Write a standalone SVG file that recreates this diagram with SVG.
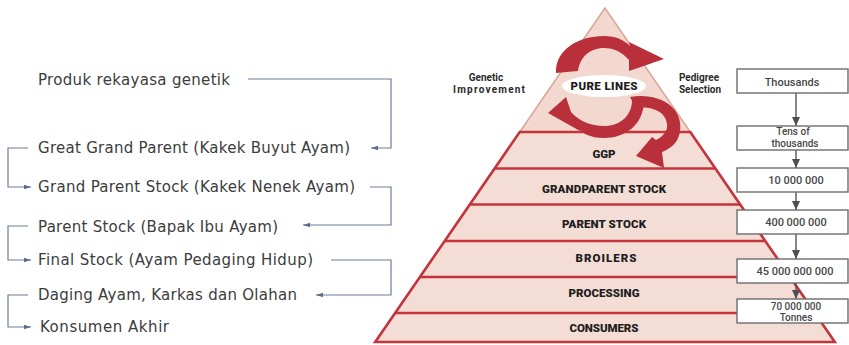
<svg xmlns="http://www.w3.org/2000/svg" width="849" height="345" viewBox="0 0 849 345">
  <defs>
    <marker id="tipBlue" markerWidth="8" markerHeight="6" refX="7" refY="3" orient="auto" markerUnits="userSpaceOnUse">
      <path d="M0,0.8 L7,3 L0,5.2 z" fill="#5b6d8c"/>
    </marker>
    <marker id="tipGray" markerWidth="10" markerHeight="9" refX="9" refY="4.5" orient="auto" markerUnits="userSpaceOnUse">
      <path d="M0,0.5 L9,4.5 L0,8.5 z" fill="#4f4f4f"/>
    </marker>
  </defs>
  <style>
    .lt { font-family: "DejaVu Sans", "Liberation Sans", sans-serif; font-size: 15px; fill: #3c3c3c; }
    .cn { fill: none; stroke: #6c7c98; stroke-width: 1.2; }
    .body { fill: #f3ddd5; stroke: #c5343d; stroke-width: 2.6; stroke-linejoin: miter; }
    .apex { fill: #f2d8ce; stroke: #d9a596; stroke-width: 1.5; }
    .rule { stroke: #c5343d; stroke-width: 2.6; }
    .lbl { font-family: Roboto, "DejaVu Sans", sans-serif; font-weight: 900; font-size: 11.5px; fill: #1e1e1e; text-anchor: middle; }
    .side { font-family: Roboto, "DejaVu Sans", sans-serif; font-weight: 700; font-size: 10px; fill: #2a2a2a; text-anchor: middle; }
    .box { fill: #ffffff; stroke: #6d6d6d; stroke-width: 1.4; }
    .bt { font-family: Roboto, "DejaVu Sans", sans-serif; font-weight: 500; font-size: 11px; fill: #474747; text-anchor: middle; }
    .bt2 { font-size: 10px; }
    .flow { stroke: #555555; stroke-width: 1.4; fill: none; }
    .red { fill: #b9303b; }
  </style>

  <!-- Left list of production stages -->
  <g id="produk"><text class="lt" x="38" y="85" textLength="192">Produk rekayasa genetik</text></g>
  <g id="ggp-id"><text class="lt" x="38" y="153" textLength="312">Great Grand Parent (Kakek Buyut Ayam)</text></g>
  <g id="gps-id"><text class="lt" x="38" y="192" textLength="317">Grand Parent Stock (Kakek Nenek Ayam)</text></g>
  <g id="ps-id"><text class="lt" x="38" y="232" textLength="240">Parent Stock (Bapak Ibu Ayam)</text></g>
  <g id="fs-id"><text class="lt" x="38" y="265" textLength="275">Final Stock (Ayam Pedaging Hidup)</text></g>
  <g id="daging"><text class="lt" x="38" y="300" textLength="259">Daging Ayam, Karkas dan Olahan</text></g>
  <g id="konsumen"><text class="lt" x="40" y="332" textLength="129">Konsumen Akhir</text></g>

  <!-- Connectors between list items -->
  <g id="connectors">
    <path class="cn" d="M248,79 H391 V148 H371" marker-end="url(#tipBlue)"/>
    <path class="cn" d="M28,148 H8 V187 H31" marker-end="url(#tipBlue)"/>
    <path class="cn" d="M370,187 H391 V225 H303" marker-end="url(#tipBlue)"/>
    <path class="cn" d="M28,226 H8 V260 H31" marker-end="url(#tipBlue)"/>
    <path class="cn" d="M331,260 H391 V295 H316" marker-end="url(#tipBlue)"/>
    <path class="cn" d="M28,295 H8 V327 H31" marker-end="url(#tipBlue)"/>
  </g>

  <!-- Pyramid -->
  <g id="pyramid">
    <polygon class="apex" points="605,8 519.7,132 690.3,132"/>
    <polygon class="body" points="519.7,132 690.3,132 834.8,342 375.2,342"/>
    <line class="rule" x1="494.6" y1="168.5" x2="715.4" y2="168.5"/>
    <line class="rule" x1="469.8" y1="204.5" x2="740.2" y2="204.5"/>
    <line class="rule" x1="444.7" y1="241" x2="765.3" y2="241"/>
    <line class="rule" x1="419.9" y1="277" x2="790.1" y2="277"/>
    <line class="rule" x1="395.2" y1="313" x2="814.8" y2="313"/>
  </g>

  <!-- Breeding cycle arrows -->
  <g id="cycle">
    <path class="red" d="M556,73 C555,50 578,36 604,36 C616,36 624,40 630,46 L629,42 L664,59 L629,71 L629,60 C622,52 614,48 604,48 C590,48 580,57 578,71 Z"/>
    <path class="red" d="M644,100 C644,125 625,138 604,138 C590,138 581,133 577,127 L580,131 L548,113 L566,97 L571,112 C579,121 591,126 604,126 C620,126 632,116 632,100 Z"/>
    <path class="red" d="M630,97 C660,92 684,108 680,132 C678,142 672,148 662,152 L664,168 L636,156 L652,137 L656,140 C664,136 668,130 667,124 C666,112 652,106 636,108 Z"/>
  </g>

  <g id="pure-lines">
    <ellipse cx="604" cy="86" rx="42" ry="11" fill="#ffffff"/>
    <text class="lbl" x="604" y="90" textLength="67">PURE LINES</text>
  </g>

  <g id="genetic-improvement">
    <text class="side" x="486" y="81">Genetic</text>
    <text class="side" x="489" y="92.5" textLength="72">Improvement</text>
  </g>
  <g id="pedigree-selection">
    <text class="side" x="699" y="81">Pedigree</text>
    <text class="side" x="700" y="92.5">Selection</text>
  </g>

  <g id="band-ggp"><text class="lbl" x="604" y="158">GGP</text></g>
  <g id="band-gps"><text class="lbl" x="604" y="193" textLength="124">GRANDPARENT STOCK</text></g>
  <g id="band-ps"><text class="lbl" x="604" y="228" textLength="84">PARENT STOCK</text></g>
  <g id="band-broilers"><text class="lbl" x="606" y="262" textLength="61">BROILERS</text></g>
  <g id="band-processing"><text class="lbl" x="604" y="297" textLength="71">PROCESSING</text></g>
  <g id="band-consumers"><text class="lbl" x="604" y="332" textLength="69">CONSUMERS</text></g>

  <!-- Population flow -->
  <g id="flow-arrows">
    <line class="flow" x1="796" y1="93" x2="796" y2="126" marker-end="url(#tipGray)"/>
    <line class="flow" x1="796" y1="150" x2="796" y2="168" marker-end="url(#tipGray)"/>
    <line class="flow" x1="796" y1="192" x2="796" y2="210" marker-end="url(#tipGray)"/>
    <line class="flow" x1="796" y1="234" x2="796" y2="259" marker-end="url(#tipGray)"/>
    <line class="flow" x1="796" y1="283" x2="796" y2="299" marker-end="url(#tipGray)"/>
  </g>

  <g id="n-thousands">
    <rect class="box" x="737" y="69" width="111" height="24"/>
    <text class="bt" x="792" y="86">Thousands</text>
  </g>
  <g id="n-tens">
    <rect class="box" x="737" y="126" width="111" height="24"/>
    <text class="bt bt2" x="793" y="135">Tens of</text>
    <text class="bt bt2" x="795" y="146.5">thousands</text>
  </g>
  <g id="n-10m">
    <rect class="box" x="737" y="168" width="111" height="24"/>
    <text class="bt" x="796" y="184">10 000 000</text>
  </g>
  <g id="n-400m">
    <rect class="box" x="737" y="210" width="111" height="24"/>
    <text class="bt" x="796" y="226">400 000 000</text>
  </g>
  <g id="n-45b">
    <rect class="box" x="737" y="259" width="111" height="24"/>
    <text class="bt" x="795" y="275">45 000 000 000</text>
  </g>
  <g id="n-70m">
    <rect class="box" x="737" y="299" width="111" height="24"/>
    <text class="bt bt2" x="796" y="309.5">70 000 000</text>
    <text class="bt bt2" x="796" y="321">Tonnes</text>
  </g>
</svg>
